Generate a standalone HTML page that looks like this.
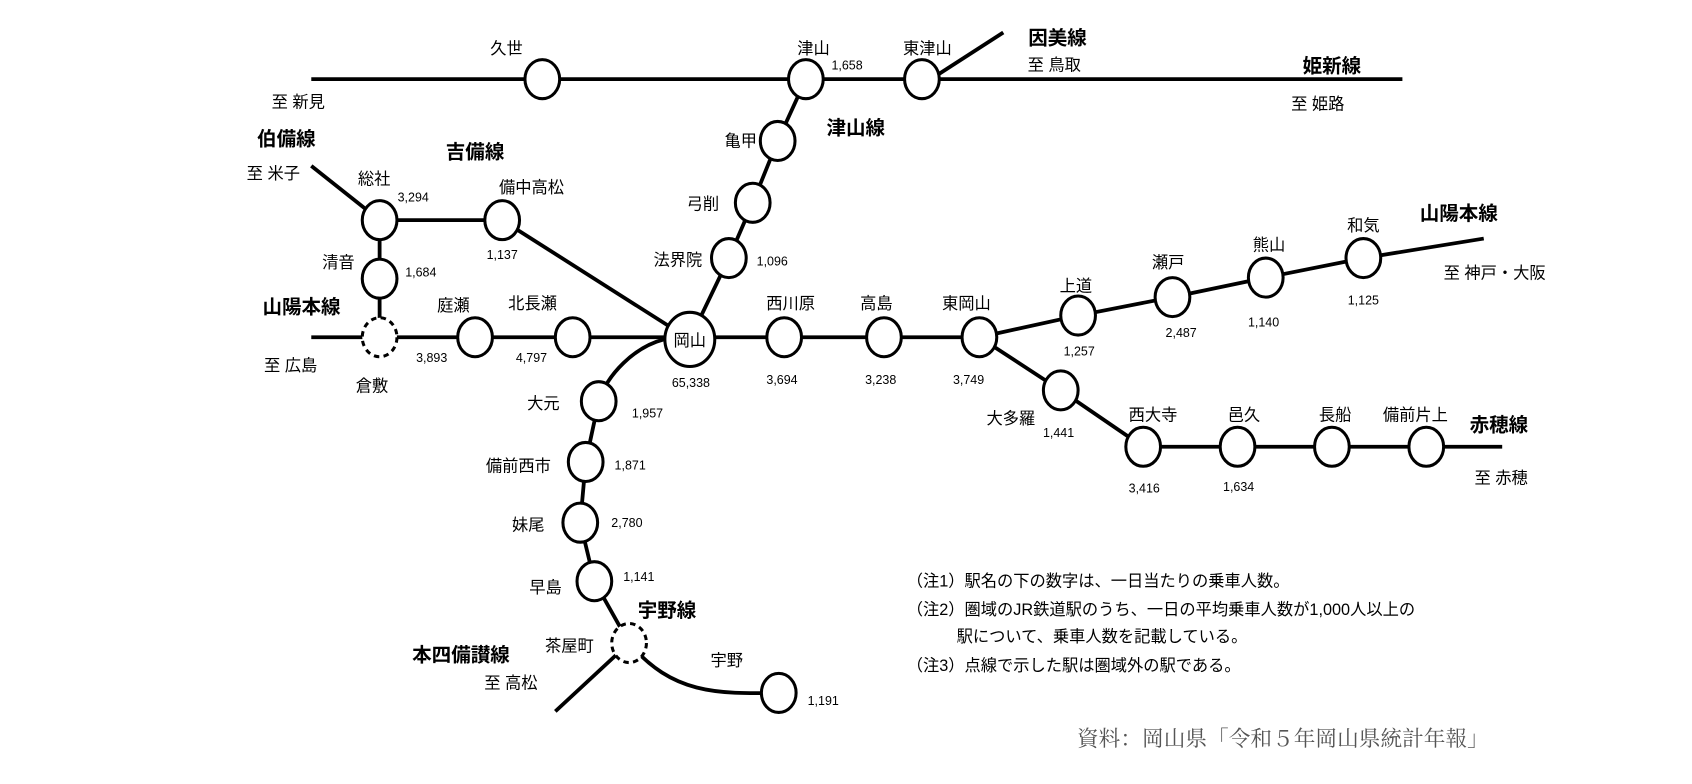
<!DOCTYPE html>
<html><head><meta charset="utf-8"><style>
html,body{margin:0;padding:0;background:#fff}
svg{display:block}
text{font-family:"Liberation Sans","Noto Sans CJK JP",sans-serif;fill:#000}
.l{font-size:15px}
.b{font-size:18px;font-weight:bold}
.n{font-size:11.5px}
.t{font-size:15px}
</style></head><body>
<svg width="1692" height="784" viewBox="0 0 1560 723" preserveAspectRatio="none" xmlns="http://www.w3.org/2000/svg">
<g stroke="#000" fill="none" stroke-width="3.5">
<line x1="287" y1="73" x2="1293" y2="73"/>
<line x1="866" y1="68" x2="925" y2="30"/>
<polyline points="743,73 717,130 694,187 672,238 636,313"/>
<line x1="287" y1="311" x2="903" y2="311"/>
<polyline points="903,311 994,291 1081,274 1167,256 1257,238 1368,220"/>
<polyline points="903,311 978,360 1054,412"/>
<line x1="1054" y1="412" x2="1385" y2="412"/>
<line x1="287" y1="153" x2="350" y2="203"/>
<line x1="350" y1="203" x2="463" y2="203"/>
<line x1="350" y1="203" x2="350" y2="311"/>
<line x1="463" y1="203" x2="636" y2="313"/>
<path d="M612,313 C585,320 560,345 552,370 L540,426 L535,482 L548,536 L580,593"/>
<path d="M580,593 C620,640 660,640 718,639"/>
<line x1="580" y1="593" x2="512" y2="656"/>
</g>
<g stroke="#000" stroke-width="2.8" fill="#fff">
<ellipse cx="500" cy="73" rx="16" ry="18"/>
<ellipse cx="743" cy="73" rx="16" ry="18"/>
<ellipse cx="850" cy="73" rx="16" ry="18"/>
<ellipse cx="717" cy="130" rx="16" ry="18"/>
<ellipse cx="694" cy="187" rx="16" ry="18"/>
<ellipse cx="672" cy="238" rx="16" ry="18"/>
<ellipse cx="350" cy="203" rx="16" ry="18"/>
<ellipse cx="463" cy="203" rx="16" ry="18"/>
<ellipse cx="350" cy="257" rx="16" ry="18"/>
<ellipse cx="350" cy="311" rx="16" ry="18" stroke-dasharray="5,4"/>
<ellipse cx="438" cy="311" rx="16" ry="18"/>
<ellipse cx="528" cy="311" rx="16" ry="18"/>
<ellipse cx="636" cy="313" rx="23" ry="25"/>
<ellipse cx="723" cy="311" rx="16" ry="18"/>
<ellipse cx="815" cy="311" rx="16" ry="18"/>
<ellipse cx="903" cy="311" rx="16" ry="18"/>
<ellipse cx="994" cy="291" rx="16" ry="18"/>
<ellipse cx="1081" cy="274" rx="16" ry="18"/>
<ellipse cx="1167" cy="256" rx="16" ry="18"/>
<ellipse cx="1257" cy="238" rx="16" ry="18"/>
<ellipse cx="978" cy="360" rx="16" ry="18"/>
<ellipse cx="1054" cy="412" rx="16" ry="18"/>
<ellipse cx="1141" cy="412" rx="16" ry="18"/>
<ellipse cx="1228" cy="412" rx="16" ry="18"/>
<ellipse cx="1315" cy="412" rx="16" ry="18"/>
<ellipse cx="552" cy="370" rx="16" ry="18"/>
<ellipse cx="540" cy="426" rx="16" ry="18"/>
<ellipse cx="535" cy="482" rx="16" ry="18"/>
<ellipse cx="548" cy="536" rx="16" ry="18"/>
<ellipse cx="580" cy="593" rx="16" ry="18" stroke-dasharray="5,4"/>
<ellipse cx="718" cy="639" rx="16" ry="18"/>
</g>
<g text-anchor="middle">
<text class="l" x="467" y="50">久世</text>
<text class="l" x="750" y="50">津山</text>
<text class="n" x="781" y="64">1,658</text>
<text class="l" x="855" y="50">東津山</text>
<text class="b" x="975" y="41">因美線</text>
<text class="l" x="972" y="65">至 鳥取</text>
<text class="b" x="1228" y="67">姫新線</text>
<text class="l" x="1215" y="101">至 姫路</text>
<text class="l" x="275" y="99">至 新見</text>
<text class="l" x="683" y="135">亀甲</text>
<text class="b" x="789" y="124">津山線</text>
<text class="l" x="648" y="193">弓削</text>
<text class="l" x="625" y="245">法界院</text>
<text class="n" x="712" y="245">1,096</text>
<text class="l" x="636" y="319">岡山</text>
<text class="n" x="637" y="357">65,338</text>
<text class="b" x="278" y="289">山陽本線</text>
<text class="l" x="268" y="342">至 広島</text>
<text class="l" x="343" y="361">倉敷</text>
<text class="n" x="398" y="334">3,893</text>
<text class="n" x="490" y="334">4,797</text>
<text class="l" x="418" y="287">庭瀬</text>
<text class="l" x="491" y="285">北長瀬</text>
<text class="l" x="729" y="285">西川原</text>
<text class="l" x="808" y="285">高島</text>
<text class="l" x="891" y="285">東岡山</text>
<text class="n" x="721" y="354">3,694</text>
<text class="n" x="812" y="354">3,238</text>
<text class="n" x="893" y="354">3,749</text>
<text class="l" x="992" y="269">上道</text>
<text class="n" x="995" y="328">1,257</text>
<text class="l" x="1077" y="247">瀬戸</text>
<text class="n" x="1089" y="311">2,487</text>
<text class="l" x="1170" y="231">熊山</text>
<text class="n" x="1165" y="301">1,140</text>
<text class="l" x="1257" y="213">和気</text>
<text class="n" x="1257" y="281">1,125</text>
<text class="b" x="1345" y="203">山陽本線</text>
<text class="l" x="1378" y="257">至 神戸・大阪</text>
<text class="l" x="932" y="391">大多羅</text>
<text class="n" x="976" y="403">1,441</text>
<text class="l" x="1063" y="388">西大寺</text>
<text class="l" x="1147" y="388">邑久</text>
<text class="l" x="1231" y="388">長船</text>
<text class="l" x="1305" y="388">備前片上</text>
<text class="b" x="1382" y="398">赤穂線</text>
<text class="l" x="1384" y="446">至 赤穂</text>
<text class="n" x="1055" y="454">3,416</text>
<text class="n" x="1142" y="453">1,634</text>
<text class="b" x="264" y="134">伯備線</text>
<text class="l" x="252" y="165">至 米子</text>
<text class="l" x="345" y="170">総社</text>
<text class="n" x="381" y="186">3,294</text>
<text class="b" x="438" y="146">吉備線</text>
<text class="l" x="490" y="178">備中高松</text>
<text class="n" x="463" y="239">1,137</text>
<text class="l" x="312" y="247">清音</text>
<text class="n" x="388" y="255">1,684</text>
<text class="l" x="501" y="377">大元</text>
<text class="n" x="597" y="385">1,957</text>
<text class="l" x="478" y="435">備前西市</text>
<text class="n" x="581" y="433">1,871</text>
<text class="l" x="487" y="489">妹尾</text>
<text class="n" x="578" y="486">2,780</text>
<text class="l" x="503" y="547">早島</text>
<text class="n" x="589" y="536">1,141</text>
<text class="b" x="615" y="569">宇野線</text>
<text class="l" x="525" y="601">茶屋町</text>
<text class="b" x="425" y="610">本四備讃線</text>
<text class="l" x="471" y="635">至 高松</text>
<text class="l" x="670" y="614">宇野</text>
<text class="n" x="759" y="650">1,191</text>
</g>
<text class="t" x="836" y="541">（注1）駅名の下の数字は、一日当たりの乗車人数。</text>
<text class="t" x="836" y="567">（注2）圏域のJR鉄道駅のうち、一日の平均乗車人数が1,000人以上の</text>
<text class="t" x="882" y="592">駅について、乗車人数を記載している。</text>
<text class="t" x="836" y="619">（注3）点線で示した駅は圏域外の駅である。</text>
<text x="993" y="688" style="font-family:'Liberation Serif','Noto Serif CJK SC',serif;font-size:20px;fill:#555">資料：岡山県「令和５年岡山県統計年報」</text>
</svg>
</body></html>
